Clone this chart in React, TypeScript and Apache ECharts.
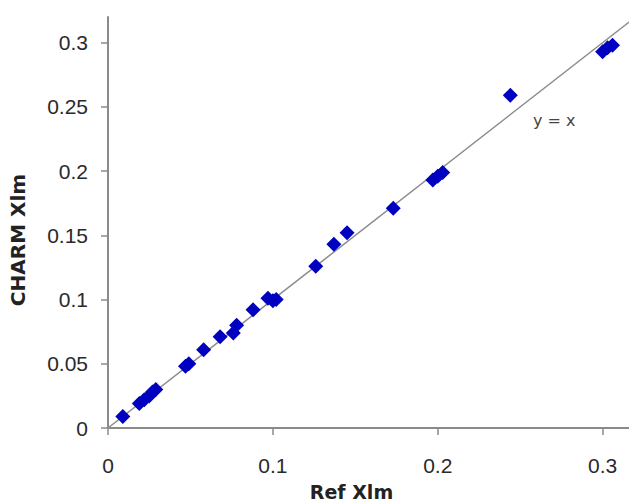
import React, { useEffect, useRef } from "react";
import * as echarts from "echarts";

const refXlm = [
  0.009, 0.019, 0.022, 0.025, 0.027, 0.029, 0.047, 0.049, 0.058, 0.068,
  0.076, 0.078, 0.088, 0.097, 0.1, 0.102, 0.126, 0.137, 0.145, 0.173,
  0.197, 0.2, 0.203, 0.244, 0.3, 0.303, 0.306,
];
const charmXlm = [
  0.009, 0.019, 0.022, 0.025, 0.028, 0.03, 0.048, 0.05, 0.061, 0.071,
  0.074, 0.08, 0.092, 0.101, 0.099, 0.1, 0.126, 0.143, 0.152, 0.171,
  0.193, 0.196, 0.199, 0.259, 0.293, 0.296, 0.298,
];
const identityLine = [
  [0, 0],
  [0.32, 0.32],
];
const xTicks = [0, 0.1, 0.2, 0.3];
const yTicks = [0, 0.05, 0.1, 0.15, 0.2, 0.25, 0.3];

export default function App() {
  const ref = useRef<HTMLDivElement>(null);
  useEffect(() => {
    if (!ref.current) return;
    const chart = echarts.init(ref.current, null, { renderer: "svg" });
    const axisLineStyle = { color: "#8a8a8a", width: 2 };
    const labelStyle = {
      color: "#2a2a2a",
      fontSize: 21,
      fontFamily: "Liberation Sans, Arial, sans-serif",
    };
    chart.setOption({
      animation: false,
      backgroundColor: "#ffffff",
      grid: {
        left: 108,
        right: 0,
        top: 17,
        bottom: 74,
        containLabel: false,
        outerBoundsMode: "none",
      },
      xAxis: {
        type: "value",
        min: 0,
        max: 0.316,
        name: "Ref Xlm",
        nameLocation: "middle",
        nameGap: 54,
        nameTextStyle: {
          color: "#222",
          fontSize: 19,
          fontWeight: "bold",
          fontFamily: "DejaVu Sans, sans-serif",
          padding: [0, 34, 0, 0],
        },
        splitLine: { show: false },
        axisLine: { lineStyle: axisLineStyle },
        axisTick: {
          show: true,
          length: 7,
          inside: false,
          customValues: xTicks,
          lineStyle: { color: "#8a8a8a", width: 1.5 },
        },
        axisLabel: { ...labelStyle, margin: 27, customValues: xTicks },
      },
      yAxis: {
        type: "value",
        min: 0,
        max: 0.32,
        name: "CHARM Xlm",
        nameLocation: "middle",
        nameGap: 80,
        nameTextStyle: {
          color: "#222",
          fontSize: 20,
          fontWeight: "bold",
          fontFamily: "DejaVu Sans, sans-serif",
          padding: [0, 35, 0, 0],
        },
        splitLine: { show: false },
        axisLine: { lineStyle: axisLineStyle },
        axisTick: {
          show: true,
          length: 7,
          inside: false,
          customValues: yTicks,
          lineStyle: { color: "#8a8a8a", width: 1.5 },
        },
        axisLabel: { ...labelStyle, margin: 20, customValues: yTicks },
      },
      series: [
        {
          type: "line",
          data: identityLine,
          symbol: "none",
          lineStyle: { color: "#8c8c8c", width: 1.5 },
          z: 1,
          silent: true,
        },
        {
          type: "scatter",
          data: refXlm.map((x, i) => [x, charmXlm[i]]),
          symbol: "diamond",
          symbolSize: [15, 15],
          itemStyle: { color: "#0000c0", opacity: 1 },
          z: 3,
        },
      ],
      graphic: [
        {
          type: "text",
          left: 533,
          top: 112,
          style: {
            text: "y = x",
            fill: "#444",
            fontSize: 16,
            fontFamily: "DejaVu Sans, sans-serif",
          },
        },
      ],
    });
    return () => chart.dispose();
  }, []);
  return (
    <div
      ref={ref}
      style={{ position: "fixed", left: 0, top: 0, width: 629, height: 502 }}
    />
  );
}
